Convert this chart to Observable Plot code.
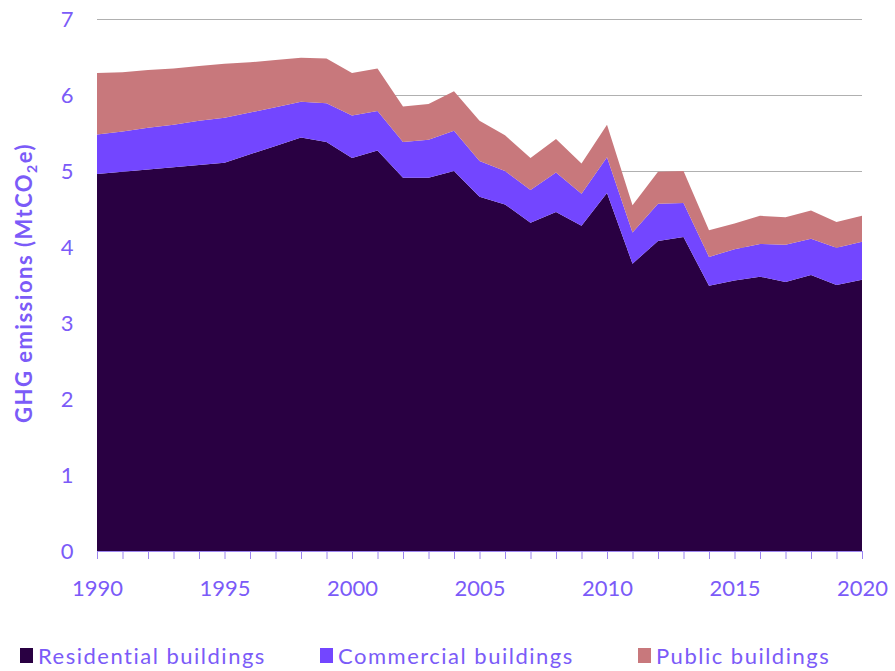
<!DOCTYPE html>
<html>
<head>
<meta charset="utf-8">
<script src="https://cdn.jsdelivr.net/npm/d3@7"></script>
<script src="https://cdn.jsdelivr.net/npm/@observablehq/plot@0.6"></script>
<style>
  body { margin: 0; background: #fff; font-family: Lato, "Noto Sans", sans-serif; }
  #chart svg { display: block; }
  .legend { height: 46px; font-size: 22px; letter-spacing: 1.5px; color: #7B5BF8; position: relative; }
  .legend span.item { position: absolute; display: flex; align-items: center; top: 17px; }
  .legend i { display: inline-block; width: 13px; height: 15px; margin-right: 5px; }
</style>
</head>
<body>
<div id="chart"></div>
<div class="legend" id="legend"></div>
<script>
const years = d3.range(1990, 2021);
const seriesNames = ["Residential buildings", "Commercial buildings", "Public buildings"];
const seriesColors = ["#290042", "#7346FF", "#C8787C"];
const residential = [4.96, 4.99, 5.02, 5.05, 5.08, 5.11, 5.22, 5.33, 5.44, 5.38,
  5.17, 5.27, 4.91, 4.91, 5.00, 4.66, 4.56, 4.32, 4.46, 4.28,
  4.71, 3.78, 4.08, 4.13, 3.49, 3.56, 3.61, 3.54, 3.63, 3.50, 3.57];
const commercial = [0.52, 0.53, 0.55, 0.56, 0.58, 0.59, 0.55, 0.51, 0.47, 0.51,
  0.56, 0.52, 0.47, 0.50, 0.53, 0.47, 0.44, 0.43, 0.52, 0.42,
  0.47, 0.41, 0.49, 0.45, 0.38, 0.41, 0.43, 0.49, 0.48, 0.49, 0.50];
const publicB = [0.81, 0.78, 0.76, 0.74, 0.72, 0.71, 0.66, 0.62, 0.58, 0.59,
  0.56, 0.56, 0.47, 0.47, 0.52, 0.53, 0.47, 0.42, 0.44, 0.40,
  0.43, 0.36, 0.42, 0.42, 0.35, 0.34, 0.37, 0.36, 0.37, 0.34, 0.34];
const yTicks = [0, 1, 2, 3, 4, 5, 6, 7];
const xTickLabels = [1990, 1995, 2000, 2005, 2010, 2015, 2020];
const yTitle = "GHG emissions (MtCO";

const seriesValues = [residential, commercial, publicB];
const data = seriesNames.flatMap((name, i) =>
  years.map((year, j) => ({ year, series: name, value: seriesValues[i][j] })));

const textColor = "#7B5BF8";
const font = "Lato, 'Noto Sans', sans-serif";

const svg = Plot.plot({
  width: 895,
  height: 625,
  marginLeft: 97,
  marginRight: 33,
  marginTop: 19,
  marginBottom: 74,
  style: { fontFamily: font, background: "#fff" },
  x: { domain: [1990, 2020], label: null },
  y: { domain: [0, 7], label: null },
  color: { domain: seriesNames, range: seriesColors },
  marks: [
    Plot.ruleY(yTicks.filter(d => d > 0), { stroke: "#b0b0b0", strokeWidth: 1.2 }),
    Plot.areaY(data, { x: "year", y: "value", fill: "series", order: seriesNames }),
    Plot.ruleY([0], { stroke: "#9C86F0", strokeWidth: 1.2 }),
    Plot.axisX(years, { tickSize: 8, tickFormat: () => "", stroke: "#9C86F0", strokeWidth: 1, tickPadding: 0, label: null }),
    Plot.axisX(xTickLabels, { tickSize: 0, tickPadding: 29, tickFormat: d => String(d), fontSize: 22, fill: textColor, label: null }),
    Plot.axisY(yTicks, { tickSize: 0, tickPadding: 24, tickFormat: d => String(d), fontSize: 22, fill: textColor, label: null })
  ]
});
document.getElementById("chart").appendChild(svg);

// y axis title with subscript
const t = d3.select(svg).append("text")
  .attr("transform", "translate(32,283) rotate(-90)")
  .attr("text-anchor", "middle")
  .attr("font-size", 22)
  .attr("font-weight", "bold")
  .attr("letter-spacing", "1.5px")
  .attr("fill", textColor)
  .attr("font-family", font);
t.append("tspan").text(yTitle);
t.append("tspan").attr("font-size", 14).attr("dy", 5).text("2");
t.append("tspan").attr("dy", -5).text("e)");

// legend
const legend = d3.select("#legend");
const lx = [20, 320, 638];
seriesNames.forEach((name, i) => {
  const item = legend.append("span").attr("class", "item").style("left", lx[i] + "px");
  item.append("i").style("background", seriesColors[i]);
  item.append("span").text(name);
});
</script>
</body>
</html>
